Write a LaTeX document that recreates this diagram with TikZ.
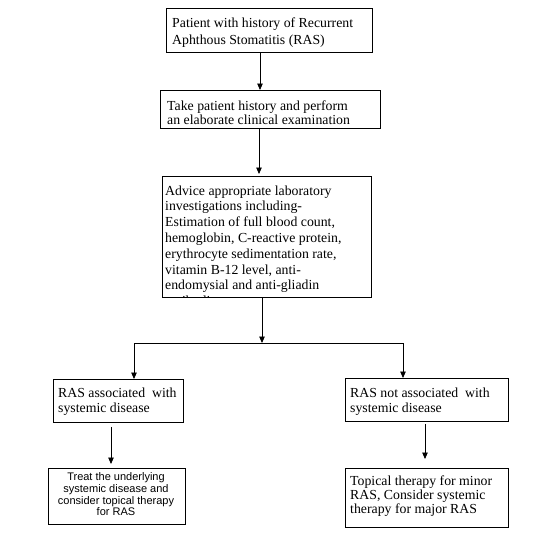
\documentclass[tikz,border=0pt]{standalone}
\usepackage{fontspec}
\setmainfont{Liberation Serif}
\newfontfamily\arialf{Liberation Sans}
\usetikzlibrary{arrows.meta}
\begin{document}
\begin{tikzpicture}[x=1pt,y=-1pt,
 box/.style={draw,line width=0.9pt,anchor=north west,inner sep=0pt},
 txt/.style={anchor=north west,align=left,inner sep=0pt},
 stxt/.style={anchor=north,align=center,inner sep=0pt,font=\arialf\fontsize{11}{11.7}\selectfont},
 arr/.style={-{Triangle[width=5.5pt,length=6.5pt]},line width=0.8pt},
 ln/.style={line width=0.8pt}]
\useasboundingbox (0,0) rectangle (533,539);
\fill[white] (0,0) rectangle (533,539);
% boxes
\node[box,minimum width=206,minimum height=44] (b1) at (166,8) {};
\node[box,minimum width=220,minimum height=38] (b2) at (160,90) {};
\node[box,minimum width=209,minimum height=121] (b3) at (162,176) {};
\node[box,minimum width=130,minimum height=43] (b4) at (53,379) {};
\node[box,minimum width=163,minimum height=43] (b6) at (345,378) {};
\node[box,minimum width=137,minimum height=56] (b5) at (48,468) {};
\node[box,minimum width=163,minimum height=59] (b7) at (345,468) {};
% texts
\node[txt,font=\fontsize{13.8}{17}\selectfont] (t1) at (172,17.6) {Patient with history of Recurrent\\Aphthous Stomatitis (RAS)};
\node[txt,font=\fontsize{13.8}{14}\selectfont] (t2) at (167,100.8) {Take patient history and perform\\an elaborate clinical examination};
\begin{scope}
\clip (b3.north west) rectangle (b3.south east);
\node[txt,font=\fontsize{13.8}{15.8}\selectfont] (t3) at (165,185.4) {Advice appropriate laboratory\\investigations including-\\Estimation of full blood count,\\hemoglobin, C-reactive protein,\\erythrocyte sedimentation\ rate,\\vitamin B-12 level, anti-\\endomysial and anti-gliadin\\antibodies};
\end{scope}
\node[txt,font=\fontsize{13.8}{15}\selectfont] (t4) at (58,387.6) {RAS associated\ \ with\\systemic disease};
\node[txt,font=\fontsize{13.8}{15}\selectfont] (t6) at (350,387.6) {RAS not associated\ \ with\\systemic disease};
\node[txt,font=\fontsize{13.8}{14}\selectfont] (t7) at (350,475.6) {Topical therapy\ for minor\\RAS, Consider\ systemic\\therapy for major RAS};
\node[stxt] (t5) at (116,472.7) {Treat the underlying\\systemic disease and\\consider topical therapy\\for RAS};
% connectors
\coordinate (x1) at (260,0);
\coordinate (x2) at (259,0);
\coordinate (jm) at (262,343);
\coordinate (jl) at (134,343);
\coordinate (jr) at (403,343);
\coordinate (x4) at (111,0);
\coordinate (x6) at (425,0);
\draw[arr] (x1 |- b1.south) -- (x1 |- b2.north);
\draw[arr,shorten >=2pt] (x2 |- b2.south) -- (x2 |- b3.north);
\draw[arr] (jm |- b3.south) -- (jm);
\draw[ln] (jl) -- (jr);
\draw[arr] (jl) -- (jl |- b4.north);
\draw[arr] (jr) -- (jr |- b6.north);
\draw[arr,shorten <=4pt,shorten >=4pt] (x4 |- b4.south) -- (x4 |- b5.north);
\draw[arr,shorten <=2pt,shorten >=9pt] (x6 |- b6.south) -- (x6 |- b7.north);
\end{tikzpicture}
\end{document}
